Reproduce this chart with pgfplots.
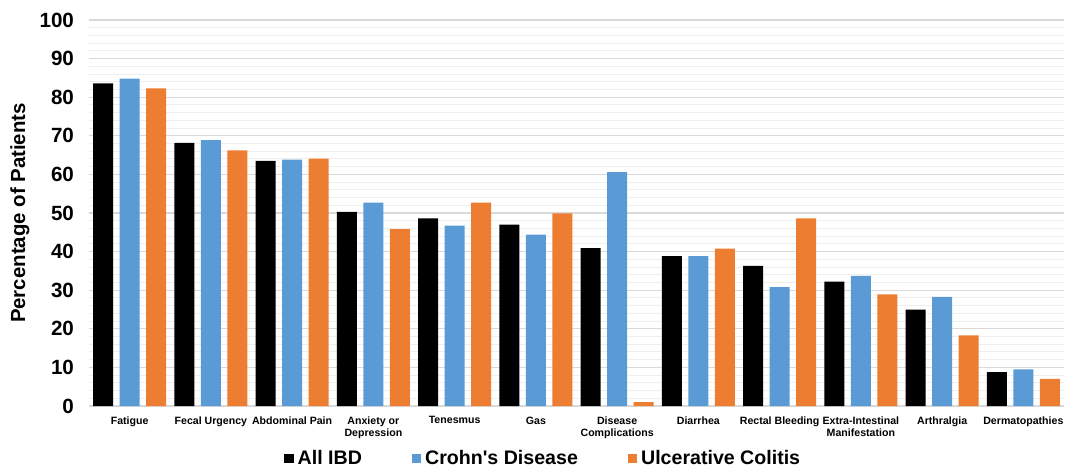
\documentclass[border=0pt]{standalone}
\usepackage{pgfplots}
\pgfplotsset{compat=1.18}
\usepackage{fontspec}
\setmainfont{Liberation Sans}
\definecolor{cblue}{HTML}{5B9BD5}
\definecolor{corange}{HTML}{ED7D31}
\definecolor{gmaj}{HTML}{D9D9D9}
\definecolor{gmin}{HTML}{EEEEEE}
\begin{document}
\begin{tikzpicture}
\begin{axis}[
  scale only axis,
  width=487.5pt, height=193pt,
  at={(0,0)}, anchor=south west,
  ybar=3.25pt, bar width=10pt,
  xmin=-0.5, xmax=11.5,
  ymin=0, ymax=100,
  ytick={0,10,...,100},
  minor y tick num=4,
  ymajorgrids, yminorgrids,
  major grid style={gmaj, line width=0.6pt},
  minor grid style={gmin, line width=0.5pt},
  axis line style={draw=none},
  axis x line*=bottom,
  x axis line style={draw=gmaj, line width=0.8pt},
  axis y line*=left,
  y axis line style={draw=none},
  tick style={draw=none},
  xtick={0,...,11},
  xticklabels={Fatigue,Fecal Urgency,Abdominal Pain,Anxiety or\\Depression,Tenesmus,Gas,Disease\\Complications,Diarrhea,Rectal Bleeding,Extra-Intestinal\\Manifestation,Arthralgia,Dermatopathies},
  xticklabel style={font=\bfseries\fontsize{5.3}{6.2}\selectfont, align=center, anchor=north, yshift=2.5pt},
  yticklabel style={font=\bfseries\fontsize{10.3}{11}\selectfont, xshift=-4pt},
  /pgf/number format/assume math mode=true,
  ylabel={\bfseries Percentage of Patients},
  ylabel style={font=\fontsize{10.2}{11}\selectfont, at={(axis description cs:-0.0708,0.5)}, anchor=center},
  enlarge x limits=false,
  legend style={at={(0.467,-0.136)}, anchor=center, draw=none, fill=none,
    font=\bfseries\fontsize{9.8}{11}\selectfont, legend columns=3,
    /tikz/every even column/.append style={column sep=23pt}},
  legend image code/.code={\path[#1,draw=none] (0pt,-2.4pt) rectangle (4.6pt,2.2pt);},
]
\addplot[fill=black, draw=none] coordinates {(0,83.6) (1,68.2) (2,63.5) (3,50.3) (4,48.6) (5,47.0) (6,40.9) (7,38.8) (8,36.3) (9,32.2) (10,25.0) (11,8.8)};
\addplot[fill=cblue, draw=none] coordinates {(0,84.8) (1,68.9) (2,63.8) (3,52.7) (4,46.7) (5,44.4) (6,60.6) (7,38.8) (8,30.8) (9,33.7) (10,28.3) (11,9.5)};
\addplot[fill=corange, draw=none] coordinates {(0,82.3) (1,66.2) (2,64.1) (3,45.8) (4,52.7) (5,49.9) (6,1.0) (7,40.8) (8,48.6) (9,28.9) (10,18.3) (11,7.0)};
\legend{All IBD, Crohn\textquotesingle s Disease, Ulcerative Colitis}
\end{axis}
\pgfresetboundingbox
\path (-44.5pt,-31pt) rectangle (488pt,203pt);
\end{tikzpicture}
\end{document}
